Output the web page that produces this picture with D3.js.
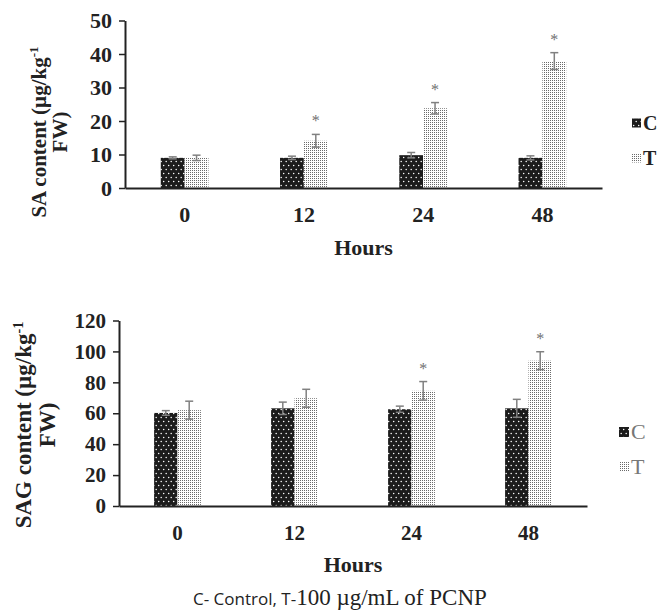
<!DOCTYPE html>
<html>
<head>
<meta charset="utf-8">
<script src="https://cdn.jsdelivr.net/npm/d3@7"></script>
<style>
  body { margin: 0; background: #fff; }
</style>
</head>
<body>
<div id="chart"></div>
<script>
// categories and series
var hours = ["0", "12", "24", "48"];
var series = ["C", "T"];

// SA content (top chart)
var saC = [9.0, 9.0, 9.8, 9.0];
var saCErr = [0.3, 0.5, 0.8, 0.6];
var saT = [9.0, 14.1, 23.8, 37.9];
var saTErr = [0.8, 1.9, 1.7, 2.5];
var saSig = [false, true, true, true];
var saTicks = [0, 10, 20, 30, 40, 50];

// SAG content (bottom chart)
var sagC = [60.2, 63.2, 62.6, 63.2];
var sagCErr = [1.5, 4.0, 2.0, 5.8];
var sagT = [62.0, 69.7, 74.5, 94.0];
var sagTErr = [5.8, 5.8, 6.0, 5.8];
var sagSig = [false, false, true, true];
var sagTicks = [0, 20, 40, 60, 80, 100, 120];

var serif = "'Liberation Serif', 'Times New Roman', serif";

var svg = d3.select("#chart").append("svg")
    .attr("width", 664)
    .attr("height", 614);

// fill patterns: dark with white dots for C, light gray dots for T
var defs = svg.append("defs");
var pc = defs.append("pattern")
    .attr("id", "patC")
    .attr("patternUnits", "userSpaceOnUse")
    .attr("width", 5)
    .attr("height", 8);
pc.append("rect").attr("width", 5).attr("height", 8).attr("fill", "#1c1c1c");
pc.append("circle").attr("cx", 1.2).attr("cy", 1.5).attr("r", 0.75).attr("fill", "#fff");
pc.append("circle").attr("cx", 3.7).attr("cy", 5.5).attr("r", 0.75).attr("fill", "#fff");

var pt = defs.append("pattern")
    .attr("id", "patT")
    .attr("patternUnits", "userSpaceOnUse")
    .attr("width", 2)
    .attr("height", 2);
pt.append("rect").attr("width", 2).attr("height", 2).attr("fill", "#fff");
pt.append("rect").attr("width", 1).attr("height", 1).attr("fill", "#6a6a6a");

var fills = {C: "url(#patC)", T: "url(#patT)"};

function drawChart(o) {
  var g = svg.append("g");

  var x = d3.scaleBand()
      .domain(hours)
      .range([o.x0, o.x1])
      .paddingInner(0.6)
      .paddingOuter(0.3);
  var xs = d3.scaleBand()
      .domain(series)
      .range([0, x.bandwidth()]);
  var y = d3.scaleLinear()
      .domain([0, o.max])
      .range([o.y0, o.y1]);

  var rows = [];
  hours.forEach(function(h, i) {
    rows.push({h: h, s: "C", v: o.c[i], e: o.cErr[i], sig: false});
    rows.push({h: h, s: "T", v: o.t[i], e: o.tErr[i], sig: o.sig[i]});
  });

  // bars
  g.selectAll(".bar")
      .data(rows)
    .enter().append("rect")
      .attr("class", "bar")
      .attr("x", function(d) { return x(d.h) + xs(d.s); })
      .attr("y", function(d) { return y(d.v); })
      .attr("width", xs.bandwidth())
      .attr("height", function(d) { return y(0) - y(d.v); })
      .attr("fill", function(d) { return fills[d.s]; });

  // error bars
  var eb = g.selectAll(".err")
      .data(rows)
    .enter().append("g")
      .attr("class", "err")
      .attr("stroke", "#808080")
      .attr("stroke-width", 1.5);
  function cx(d) { return x(d.h) + xs(d.s) + xs.bandwidth() / 2; }
  eb.append("line")
      .attr("x1", cx).attr("x2", cx)
      .attr("y1", function(d) { return y(d.v - d.e); })
      .attr("y2", function(d) { return y(d.v + d.e); });
  [1, -1].forEach(function(sgn) {
    eb.append("line")
        .attr("x1", function(d) { return cx(d) - 4; })
        .attr("x2", function(d) { return cx(d) + 4; })
        .attr("y1", function(d) { return y(d.v + sgn * d.e); })
        .attr("y2", function(d) { return y(d.v + sgn * d.e); });
  });

  // significance stars
  g.selectAll(".star")
      .data(rows.filter(function(d) { return d.sig; }))
    .enter().append("text")
      .attr("class", "star")
      .attr("x", cx)
      .attr("y", function(d) { return y(d.v + d.e) - 8; })
      .attr("text-anchor", "middle")
      .attr("font-family", serif)
      .attr("font-size", 16)
      .attr("fill", "#707070")
      .text("*");

  // y axis
  var ya = g.append("g")
      .attr("transform", "translate(" + o.x0 + ",0)")
      .call(d3.axisLeft(y).tickValues(o.ticks).tickSize(6).tickSizeOuter(0).tickPadding(7));
  ya.select(".domain").attr("stroke", "#222").attr("stroke-width", 2);
  ya.selectAll(".tick line").attr("stroke", "#222").attr("stroke-width", 1.5);
  ya.selectAll(".tick text")
      .attr("font-family", serif)
      .attr("font-weight", "bold")
      .attr("font-size", o.tickFont)
      .attr("fill", "#222");

  // x axis
  var xa = g.append("g")
      .attr("transform", "translate(0," + o.y0 + ")")
      .call(d3.axisBottom(x).tickSize(0).tickPadding(o.xPad));
  xa.select(".domain").attr("stroke", "#222").attr("stroke-width", 2);
  xa.selectAll(".tick text")
      .attr("font-family", serif)
      .attr("font-weight", "bold")
      .attr("font-size", o.tickFont)
      .attr("fill", "#222");

  g.append("text")
      .attr("x", (o.x0 + o.x1) / 2)
      .attr("y", o.hoursY)
      .attr("text-anchor", "middle")
      .attr("font-family", serif)
      .attr("font-weight", "bold")
      .attr("font-size", 22)
      .attr("fill", "#222")
      .text("Hours");

  // y title, two lines
  var t1 = g.append("text")
      .attr("transform", "translate(" + o.titleX1 + "," + o.titleY + ") rotate(-90)")
      .attr("text-anchor", "middle")
      .attr("font-family", serif)
      .attr("font-weight", "bold")
      .attr("font-size", o.titleFont)
      .attr("fill", "#222");
  t1.append("tspan").text(o.title + " (µg/kg");
  t1.append("tspan").attr("dy", -8).attr("font-size", o.titleFont * 0.62).text("-1");
  g.append("text")
      .attr("transform", "translate(" + o.titleX2 + "," + o.titleY + ") rotate(-90)")
      .attr("text-anchor", "middle")
      .attr("font-family", serif)
      .attr("font-weight", "bold")
      .attr("font-size", o.titleFont)
      .attr("fill", "#222")
      .text("FW)");

  // legend
  series.forEach(function(s, i) {
    var ly = o.legY + i * o.legGap;
    g.append("rect")
        .attr("x", o.legX)
        .attr("y", ly - o.legBox / 2)
        .attr("width", o.legBox)
        .attr("height", o.legBox)
        .attr("fill", fills[s]);
    g.append("text")
        .attr("x", o.legX + o.legBox + 2)
        .attr("y", ly)
        .attr("dy", "0.34em")
        .attr("font-family", serif)
        .attr("font-weight", o.legWeight)
        .attr("font-size", o.legFont)
        .attr("fill", o.legColor)
        .text(s);
  });
}

drawChart({
  c: saC, cErr: saCErr, t: saT, tErr: saTErr, sig: saSig, ticks: saTicks,
  max: 50, x0: 125, x1: 602, y0: 188, y1: 20.5,
  tickFont: 22, xPad: 18, hoursY: 255,
  title: "SA content", titleFont: 21, titleX1: 46, titleX2: 67, titleY: 132,
  legX: 632, legY: 123, legGap: 35, legBox: 9, legFont: 20, legWeight: "bold", legColor: "#222"
});

drawChart({
  c: sagC, cErr: sagCErr, t: sagT, tErr: sagTErr, sig: sagSig, ticks: sagTicks,
  max: 120, x0: 119, x1: 587, y0: 506, y1: 320.5,
  tickFont: 21, xPad: 19, hoursY: 572,
  title: "SAG content", titleFont: 23, titleX1: 31, titleX2: 55, titleY: 425,
  legX: 619, legY: 432, legGap: 35, legBox: 10, legFont: 22, legWeight: "normal", legColor: "#777"
});

// footnote
var note = svg.append("text")
    .attr("x", 193)
    .attr("y", 605)
    .attr("fill", "#222");
note.append("tspan")
    .attr("font-family", "'Open Sans', sans-serif")
    .attr("font-size", 17)
    .text("C- Control, T-");
note.append("tspan")
    .attr("font-family", serif)
    .attr("font-size", 23)
    .text("100 µg/mL of PCNP");
</script>
</body>
</html>
